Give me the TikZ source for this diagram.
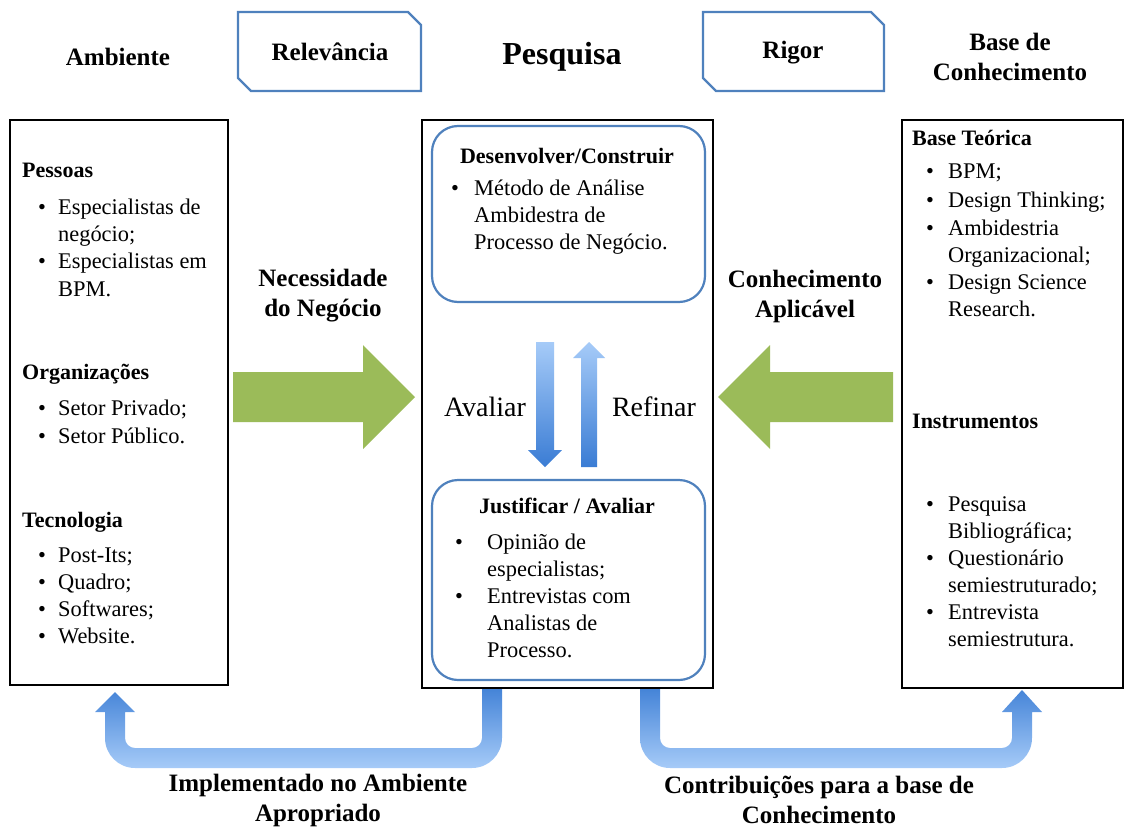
\documentclass[tikz,border=0pt]{standalone}
\usepackage{fontspec}
\setmainfont{Liberation Serif}
\definecolor{bluebd}{HTML}{4F81BD}
\definecolor{grn}{HTML}{9BBB59}
\definecolor{bldark}{HTML}{3A7CD4}
\definecolor{bllight}{HTML}{A6CBF8}
\begin{document}
\begin{tikzpicture}[x=1pt,y=-1pt,
  body/.style={font=\fontsize{22.4}{27}\selectfont, inner sep=0pt, anchor=mid west, yshift=-4pt},
  hd/.style={font=\bfseries\fontsize{22}{26}\selectfont, inner sep=0pt, anchor=mid west, yshift=-4pt},
  boxhd/.style={font=\bfseries\fontsize{22}{26}\selectfont, inner sep=0pt, anchor=center},
  title/.style={font=\bfseries\fontsize{25}{30}\selectfont, align=center, inner sep=0pt},
  blackbox/.style={draw=black, line width=2pt, fill=white},
  roundbox/.style={draw=bluebd, line width=2.2pt, rounded corners=26pt},
  tagbox/.style={draw=bluebd, line width=2.4pt, fill=white},
  greenarrow/.style={fill=grn},
  bluearrow/.style={top color=bllight, bottom color=bldark},
  loop/.style={top color=bldark, bottom color=bllight}
]
\useasboundingbox (0,0) rectangle (1125,830);

% bottom feedback arrows
\shade[loop] (502,680) -- (502,738) .. controls (502,754.6) and (488.6,768) .. (472,768)
  -- (135,768) .. controls (118.4,768) and (105,754.6) .. (105,738) -- (105,712)
  -- (95,712) -- (115,692) -- (135,712) -- (125,712) -- (125,738)
  .. controls (125,743.5) and (129.5,748) .. (135,748) -- (472,748)
  .. controls (477.5,748) and (482,743.5) .. (482,738) -- (482,680) -- cycle;
\shade[loop] (640,680) -- (640,738) .. controls (640,754.6) and (653.4,768) .. (670,768)
  -- (1002,768) .. controls (1018.6,768) and (1032,754.6) .. (1032,738) -- (1032,712)
  -- (1042,712) -- (1022,690) -- (1002,712) -- (1012,712) -- (1012,738)
  .. controls (1012,743.5) and (1007.5,748) .. (1002,748) -- (670,748)
  .. controls (664.5,748) and (660,743.5) .. (660,738) -- (660,680) -- cycle;

% main boxes
\draw[blackbox] (10,120) rectangle (228,685);
\draw[blackbox] (422,120) rectangle (713,688);
\draw[blackbox] (902,120) rectangle (1123,688);
\draw[roundbox] (432,126) rectangle (705,302);
\draw[roundbox] (432,480) rectangle (705,680);

% tag boxes
\draw[tagbox] (238,12) -- (408,12) -- (421,25) -- (421,91) -- (251,91) -- (238,78) -- cycle;
\draw[tagbox] (703,12) -- (871,12) -- (884,25) -- (884,91) -- (716,91) -- (703,78) -- cycle;
\node[title] (rel) at (330,52) {Relevância};
\node[title] (rig) at (793,53) {Rigor};

% headings
\node[title] (amb) at (118,57) {Ambiente};
\node[title, font=\bfseries\fontsize{32}{36}\selectfont] (pesq) at (562,57) {Pesquisa};
\node[title] (base) at (1010,57) {Base de\\Conhecimento};
\node[title] (nec) at (323,296) {Necessidade\\do Negócio};
\node[title] (conh) at (805,296) {Conhecimento\\Aplicável};
\node[title] (impl) at (318,800) {Implementado no Ambiente\\Apropriado};
\node[title] (contr) at (819,800) {Contribuições para a base de\\Conhecimento};

% green arrows
\fill[greenarrow] (233,372) -- (363,372) -- (363,345) -- (415,397) -- (363,449) -- (363,422) -- (233,422) -- cycle;
\fill[greenarrow] (893,372) -- (770,372) -- (770,345) -- (718,397) -- (770,449) -- (770,422) -- (893,422) -- cycle;

% blue vertical arrows
\shade[bluearrow] (536,342) -- (554,342) -- (554,450) -- (562,450) -- (545,467) -- (528,450) -- (536,450) -- cycle;
\shade[bluearrow] (581,467) -- (597,467) -- (597,358) -- (605,358) -- (589,342) -- (573,358) -- (581,358) -- cycle;
\node[inner sep=0pt, font=\fontsize{28}{32}\selectfont] (aval) at (485,407) {Avaliar};
\node[inner sep=0pt, font=\fontsize{28}{32}\selectfont] (ref) at (654,407) {Refinar};

% left box
\node[hd] (h1) at (22,171) {Pessoas};
\node[body] (b1) at (38,208) {•};
\node[body] (t1a) at (58,208) {Especialistas de};
\node[body] (t1b) at (58,235) {negócio;};
\node[body] (b2) at (38,262) {•};
\node[body] (t2a) at (58,262) {Especialistas em};
\node[body] (t2b) at (58,290) {BPM.};
\node[hd] (h2) at (22,373) {Organizações};
\node[body] (b3) at (38,409) {•};
\node[body] (t3) at (58,409) {Setor Privado;};
\node[body] (b4) at (38,437) {•};
\node[body] (t4) at (58,437) {Setor Público.};
\node[hd] (h3) at (22,521) {Tecnologia};
\node[body] (b5) at (38,556) {•};
\node[body] (t5) at (58,556) {Post-Its;};
\node[body] (b6) at (38,583) {•};
\node[body] (t6) at (58,583) {Quadro;};
\node[body] (b7) at (38,610) {•};
\node[body] (t7) at (58,610) {Softwares;};
\node[body] (b8) at (38,637) {•};
\node[body] (t8) at (58,637) {Website.};

% center top box
\node[boxhd] (dc) at (567,156) {Desenvolver/Construir};
\node[body] (b9) at (451,189) {•};
\node[body] (t9a) at (474,189) {Método de Análise};
\node[body] (t9b) at (474,216) {Ambidestra de};
\node[body] (t9c) at (474,243) {Processo de Negócio.};

% center bottom box
\node[boxhd] (ja) at (567,506) {Justificar / Avaliar};
\node[body] (b10) at (455,543) {•};
\node[body] (t10a) at (487,543) {Opinião de};
\node[body] (t10b) at (487,570) {especialistas;};
\node[body] (b11) at (455,597) {•};
\node[body] (t11a) at (487,597) {Entrevistas com};
\node[body] (t11b) at (487,624) {Analistas de};
\node[body] (t11c) at (487,651) {Processo.};

% right box
\node[hd] (h4) at (912,139) {Base Teórica};
\node[body] (b12) at (926,172) {•};
\node[body] (t12) at (948,172) {BPM;};
\node[body] (b13) at (926,201) {•};
\node[body] (t13) at (948,201) {Design Thinking;};
\node[body] (b14) at (926,229) {•};
\node[body] (t14a) at (948,229) {Ambidestria};
\node[body] (t14b) at (948,256) {Organizacional;};
\node[body] (b15) at (926,283) {•};
\node[body] (t15a) at (948,283) {Design Science};
\node[body] (t15b) at (948,310) {Research.};
\node[hd] (h5) at (912,422) {Instrumentos};
\node[body] (b16) at (926,505) {•};
\node[body] (t16a) at (948,505) {Pesquisa};
\node[body] (t16b) at (948,532) {Bibliográfica;};
\node[body] (b17) at (926,559) {•};
\node[body] (t17a) at (948,559) {Questionário};
\node[body] (t17b) at (948,586) {semiestruturado;};
\node[body] (b18) at (926,613) {•};
\node[body] (t18a) at (948,613) {Entrevista};
\node[body] (t18b) at (948,640) {semiestrutura.};
\end{tikzpicture}
\end{document}
